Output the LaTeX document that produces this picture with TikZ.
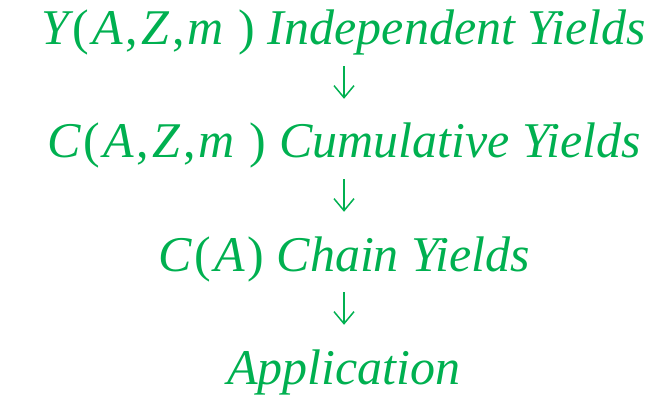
\documentclass[tikz,border=0pt]{standalone}
\usepackage{fontspec}
\setmainfont{Liberation Serif}
\usepackage{xcolor}
\usetikzlibrary{positioning, arrows.meta}
\definecolor{yieldgreen}{RGB}{0,176,80}
\newcommand{\mvar}[1]{\textit{#1}\kern3pt}
\newcommand{\msym}[1]{\textup{#1}\kern3pt}
\tikzstyle{yieldtext} = [inner sep=0pt, text height=36pt, text depth=12pt, text=yieldgreen, font=\fontsize{50}{54}\selectfont\itshape]
\tikzstyle{arrow} = [draw=yieldgreen, line width=1.5pt, -{Straight Barb[length=12pt, width=20pt, line width=1.5pt]}, shorten <=9pt, shorten >=23pt]

\begin{document}
\begin{tikzpicture}[node distance=113pt]
	\useasboundingbox (0,0) rectangle (667pt,-401pt);
	\node (indep) [yieldtext] at (344pt,-33pt) {\mvar{Y}\msym{(}\mvar{A}\msym{,}\mvar{Z}\msym{,}\mvar{m}\kern12pt\textup{)} Independent Yields};
	\node (cumul) [yieldtext, below of=indep] {\mvar{C}\msym{(}\mvar{A}\msym{,}\mvar{Z}\msym{,}\mvar{m}\kern12pt\textup{)} Cumulative Yields};
	\node (chain) [yieldtext, below of=cumul] {\mvar{C}\msym{(}\mvar{A}\textup{)} Chain Yields};
	\node (appl) [yieldtext, below of=chain] {Application};

	\draw [arrow] (indep) -- (cumul);
	\draw [arrow] (cumul) -- (chain);
	\draw [arrow] (chain) -- (appl);

\end{tikzpicture}
\end{document}
